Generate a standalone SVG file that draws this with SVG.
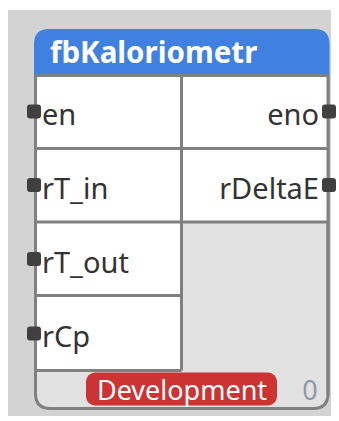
<svg xmlns="http://www.w3.org/2000/svg" width="339" height="421" viewBox="0 0 339 421">
<style>
.lbl{font-family:"Noto Sans","Open Sans","DejaVu Sans",sans-serif;font-size:29px;fill:#333333}
.line{stroke:#808080;stroke-width:3;fill:none}
.port{fill:#404040}
</style>
<defs>
<rect id="pt" class="port" x="-7" y="-7" width="14" height="14" rx="3"/>
</defs>
<rect x="8" y="10" width="323" height="406" fill="#d3d3d3"/>
<g id="fbKaloriometr">
<path d="M35.5 74 V393.5 Q35.5 408.5 50.5 408.5 H313 Q328 408.5 328 393.5 V74" fill="#e2e2e2" stroke="#808080" stroke-width="3"/>
<rect x="35.5" y="75" width="146" height="295.5" fill="#ffffff"/>
<rect x="181.5" y="75" width="146.5" height="147" fill="#ffffff"/>
<path d="M34 75 V44 Q34 29 49 29 H314.5 Q329.5 29 329.5 44 V75 Z" fill="#4080e0"/>
<text x="50" y="63" font-family="Noto Sans, Open Sans, DejaVu Sans, sans-serif" font-size="29.5" font-weight="bold" fill="#ffffff">fbKaloriometr</text>
<path class="line" d="M35.5 75.5 H328 M35.5 148.5 H328 M35.5 222 H328 M35.5 295.5 H181.5 M35.5 370.5 H181.5 M181.5 75.5 V370.5 M35.5 75 V395 M328 75 V395"/>
<g id="badge">
<rect x="86" y="372.5" width="191" height="33" rx="9" fill="#cc3333"/>
<text x="182" y="400" text-anchor="middle" font-family="Noto Sans, Open Sans, DejaVu Sans, sans-serif" font-size="27" fill="#ffffff">Development</text>
</g>
<text x="310" y="400" text-anchor="middle" font-family="Noto Sans, Open Sans, DejaVu Sans, sans-serif" font-size="27" fill="#8a9aa8">0</text>
</g>
<g id="port-en"><use href="#pt" x="34" y="111.5"/><text class="lbl" x="42" y="125">en</text></g>
<g id="port-rT_in"><use href="#pt" x="34" y="185"/><text class="lbl" x="42" y="198.5">rT_in</text></g>
<g id="port-rT_out"><use href="#pt" x="34" y="259"/><text class="lbl" x="42" y="272.5">rT_out</text></g>
<g id="port-rCp"><use href="#pt" x="34" y="333.5"/><text class="lbl" x="42" y="347">rCp</text></g>
<g id="port-eno"><use href="#pt" x="329" y="111.5"/><text class="lbl" x="319" y="125" text-anchor="end">eno</text></g>
<g id="port-rDeltaE"><use href="#pt" x="329" y="185"/><text class="lbl" x="319" y="198.5" text-anchor="end">rDeltaE</text></g>
<g id="connectors"/>
</svg>
